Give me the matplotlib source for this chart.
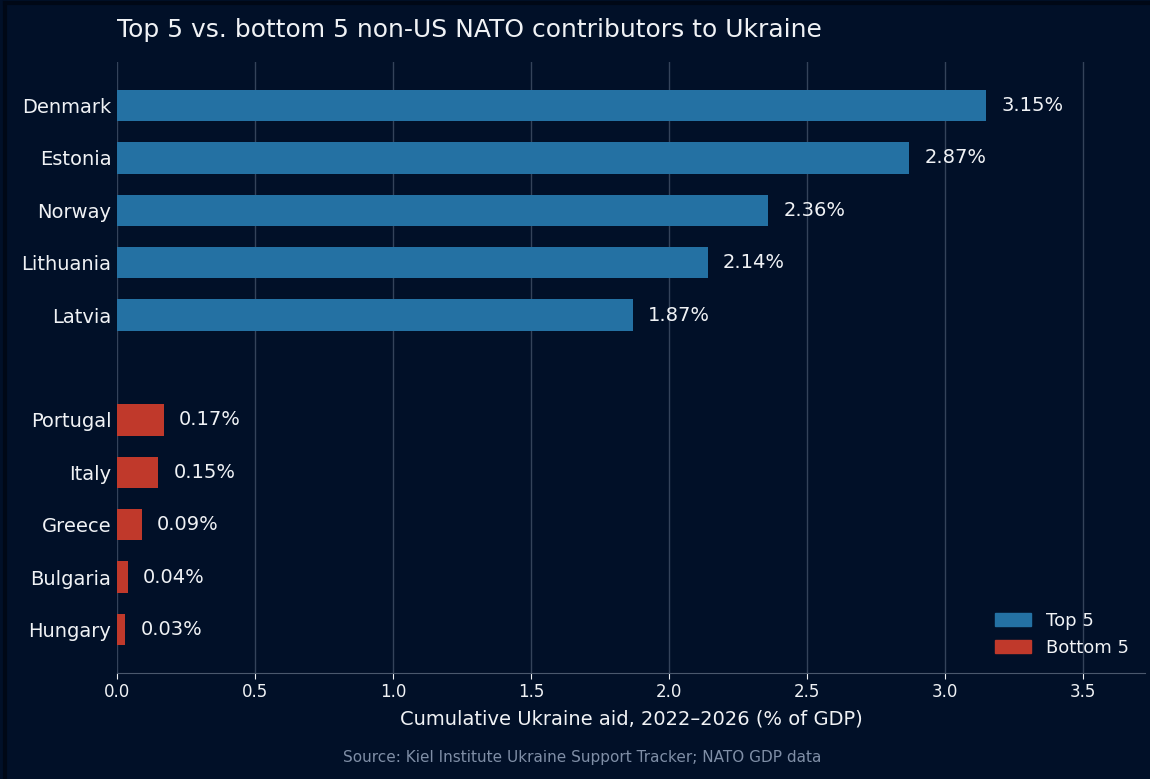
import matplotlib
matplotlib.use('Agg')
import matplotlib.pyplot as plt
from matplotlib.lines import Line2D
from matplotlib.patches import Patch

top_countries = ['Denmark', 'Estonia', 'Norway', 'Lithuania', 'Latvia']
top_values = [3.15, 2.87, 2.36, 2.14, 1.87]
bottom_countries = ['Portugal', 'Italy', 'Greece', 'Bulgaria', 'Hungary']
bottom_values = [0.17, 0.15, 0.09, 0.04, 0.03]

BG = '#011028'
BLUE = '#2471a3'
RED = '#c0392b'
GRID = '#34435a'
TEXT = '#f0f2f5'

fig = plt.figure(figsize=(11.5, 7.79), dpi=100, facecolor=BG)
ax = fig.add_axes([0.1017, 0.1361, 0.894, 0.7843], facecolor=BG)

# leave an empty slot between the two groups
top_pos = list(range(len(top_countries)))
bottom_pos = [len(top_countries) + 1 + i for i in range(len(bottom_countries))]

bars_top = ax.barh(top_pos, top_values, height=0.6, color=BLUE, label='Top 5', zorder=3)
bars_bot = ax.barh(bottom_pos, bottom_values, height=0.6, color=RED, label='Bottom 5', zorder=3)

for bars, vals in ((bars_top, top_values), (bars_bot, bottom_values)):
    for bar, val in zip(bars, vals):
        ax.text(val + 0.055, bar.get_y() + bar.get_height() / 2, f'{val:.2f}%',
                va='center', ha='left', fontsize=14, color=TEXT)

ax.set_yticks(top_pos + bottom_pos)
ax.set_yticklabels(top_countries + bottom_countries, fontsize=14, color=TEXT)
ax.invert_yaxis()
ax.set_xlim(0, 3.725)
ax.set_xticks([0, 0.5, 1.0, 1.5, 2.0, 2.5, 3.0, 3.5])
ax.tick_params(axis='x', colors=TEXT, labelsize=12, length=4)
ax.tick_params(axis='y', length=0, pad=4)
ax.set_xlabel('Cumulative Ukraine aid, 2022\u20132026 (% of GDP)', fontsize=14, color=TEXT, labelpad=6)

ax.grid(axis='x', color=GRID, linewidth=1, zorder=0)
for side in ('top', 'right', 'left'):
    ax.spines[side].set_visible(False)
ax.spines['bottom'].set_color('#4a586d')

ax.set_title('Top 5 vs. bottom 5 non-US NATO contributors to Ukraine',
             loc='left', fontsize=18, color=TEXT, pad=18)

ax.legend(handles=[Patch(color=BLUE, label='Top 5'), Patch(color=RED, label='Bottom 5')],
          loc='lower right', frameon=False, fontsize=13, labelcolor=TEXT,
          handlelength=2.0, handleheight=0.8, bbox_to_anchor=(1.0, 0.0))

fig.text(0.506, 0.018, 'Source: Kiel Institute Ukraine Support Tracker; NATO GDP data',
         ha='center', va='bottom', fontsize=11, color='#7f8ea6')

# dark frame along the top and left edges
fig.add_artist(Line2D([0.004, 0.004], [0, 0.996], transform=fig.transFigure, color='#000816', linewidth=3))
fig.add_artist(Line2D([0.004, 1], [0.996, 0.996], transform=fig.transFigure, color='#000816', linewidth=3))

fig.savefig('out.png', dpi=100, facecolor=BG)
